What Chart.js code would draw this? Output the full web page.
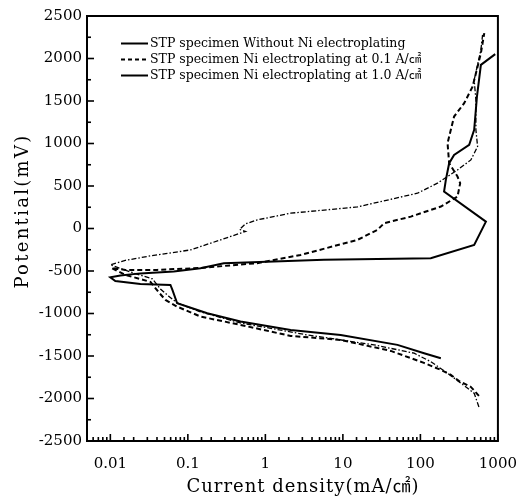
<!DOCTYPE html>
<html><head><meta charset="utf-8">
<script src="https://cdn.jsdelivr.net/npm/chart.js@4.4.1/dist/chart.umd.min.js"></script>
<style>html,body{margin:0;padding:0;background:#fff;} canvas{display:block;}</style>
</head><body>
<canvas id="c" width="531" height="498"></canvas>
<script>
// ---------------- data ----------------
const seriesNames = [
  'STP specimen Without Ni electroplating',
  'STP specimen Ni electroplating at 0.1 A/㎠',
  'STP specimen Ni electroplating at 1.0 A/㎠'
];

// Without Ni electroplating (solid)
const currentWithout   = [183.6, 111.6, 50.6, 9.37, 2.12, 0.478, 0.178, 0.0728, 0.0632, 0.0596, 0.0244, 0.0116, 0.0100, 0.0135, 0.0244, 0.0658, 0.1455, 0.291, 5.70, 136, 494, 700, 202, 213, 235, 272, 426, 494, 536, 603, 923];
const potentialWithout = [-1526, -1467, -1369, -1252, -1193, -1095, -997, -879, -722, -664, -652, -617, -575, -552, -528, -507, -467, -408, -369, -349, -193, 81, 434, 572, 768, 866, 984, 1160, 1548, 1925, 2051];

// Ni electroplating at 0.1 A/cm2 (dashed)
const current01   = [569, 448, 313, 247, 184, 111, 41.5, 9.37, 2.12, 0.478, 0.1455, 0.0728, 0.0514, 0.0417, 0.0329, 0.0156, 0.0103, 0.0156, 0.0401, 0.1455, 0.786, 2.85, 15.4, 27.9, 34.0, 75.2, 184, 301, 326, 301, 235, 224, 272, 367, 471, 547, 603, 667];
const potential01 = [-1969, -1864, -1793, -1722, -1664, -1581, -1440, -1311, -1264, -1134, -1036, -919, -840, -746, -628, -546, -464, -487, -487, -464, -408, -311, -134, -16, 62, 140, 258, 375, 533, 611, 768, 1004, 1317, 1474, 1669, 1905, 2062, 2298];

// Ni electroplating at 1.0 A/cm2 (dash-dot)
const current10   = [569, 494, 333, 224, 136, 83, 25.2, 3.48, 0.478, 0.1455, 0.0728, 0.0561, 0.0443, 0.0349, 0.0181, 0.0100, 0.0156, 0.0329, 0.108, 0.264, 0.555, 0.464, 0.555, 0.786, 2.12, 15.4, 91.6, 166, 301, 448, 547, 520, 520, 494, 603, 634];
const potential10 = [-2099, -1938, -1820, -1702, -1566, -1467, -1369, -1252, -1111, -981, -875, -793, -711, -593, -511, -428, -375, -322, -252, -134, -34, -11, 54, 101, 180, 254, 415, 533, 689, 807, 964, 1160, 1513, 1748, 2101, 2278];

// axes
const xTickValues = [0.01, 0.1, 1, 10, 100, 1000];
const xTickText   = ['0.01', '0.1', '1', '10', '100', '1000'];
const yTickValues = [-2500, -2000, -1500, -1000, -500, 0, 500, 1000, 1500, 2000, 2500];
const xTitle = 'Current density(mA/㎠)';
const yTitle = 'Potential(mV)';

// ---------------- chart ----------------
const FONT = "'DejaVu Serif', 'Noto Sans CJK SC', serif";
Chart.defaults.font.family = FONT;
Chart.defaults.color = '#000';

function pts(xs, ys) { return xs.map((x, i) => ({ x: x, y: ys[i] })); }
function xLabelFor(v) {
  for (let i = 0; i < xTickValues.length; i++) {
    if (Math.abs(v - xTickValues[i]) / xTickValues[i] < 1e-6) return xTickText[i];
  }
  return '';
}
function isXMajor(v) { return xLabelFor(v) !== ''; }
function isYMajor(v) { return yTickValues.indexOf(v) >= 0; }

const styles = [
  { width: 2, dash: [], legendDash: [] },
  { width: 2, dash: [5, 3], legendDash: [4, 3] },
  { width: 1.3, dash: [5, 2, 1.5, 2], legendDash: [] }
];

const overlay = {
  id: 'overlay',
  afterDraw(chart) {
    const ctx = chart.ctx, a = chart.chartArea;
    const xs = chart.scales.x, ys = chart.scales.y;
    ctx.save();
    ctx.strokeStyle = '#000';
    ctx.fillStyle = '#000';
    // inward ticks
    ctx.lineWidth = 1.6;
    xs.ticks.forEach(t => {
      const px = xs.getPixelForValue(t.value);
      if (px < a.left - 0.5 || px > a.right + 0.5) return;
      const len = isXMajor(t.value) ? 7 : 4;
      ctx.beginPath(); ctx.moveTo(px, a.bottom); ctx.lineTo(px, a.bottom - len); ctx.stroke();
    });
    ys.ticks.forEach(t => {
      const py = ys.getPixelForValue(t.value);
      const len = isYMajor(t.value) ? 7 : 4;
      ctx.beginPath(); ctx.moveTo(a.left, py); ctx.lineTo(a.left + len, py); ctx.stroke();
    });
    // frame
    ctx.lineWidth = 2;
    ctx.strokeRect(a.left, a.top, a.right - a.left, a.bottom - a.top);
    // legend
    ctx.font = '12.5px ' + FONT;
    ctx.textBaseline = 'middle';
    ctx.textAlign = 'left';
    const ly = [43.5, 59.5, 75.5];
    seriesNames.forEach((name, i) => {
      ctx.lineWidth = 2;
      ctx.setLineDash(styles[i].legendDash);
      ctx.beginPath(); ctx.moveTo(121, ly[i]); ctx.lineTo(148, ly[i]); ctx.stroke();
      ctx.setLineDash([]);
      ctx.fillText(name, 150, ly[i]);
    });
    // axis titles
    ctx.font = '18px ' + FONT;
    ctx.textAlign = 'center';
    try { ctx.letterSpacing = '1px'; } catch (e) {}
    ctx.fillText(xTitle, 303, 487);
    ctx.translate(23, 211);
    ctx.rotate(-Math.PI / 2);
    try { ctx.letterSpacing = '2.3px'; } catch (e) {}
    ctx.fillText(yTitle, 0, 0);
    ctx.restore();
  }
};

new Chart(document.getElementById('c'), {
  type: 'scatter',
  data: {
    datasets: [
      { label: seriesNames[0], data: pts(currentWithout, potentialWithout) },
      { label: seriesNames[1], data: pts(current01, potential01) },
      { label: seriesNames[2], data: pts(current10, potential10) }
    ].map((d, i) => Object.assign(d, {
      showLine: true,
      borderColor: '#000',
      backgroundColor: '#000',
      borderWidth: styles[i].width,
      borderDash: styles[i].dash,
      pointRadius: 0,
      pointHoverRadius: 0,
      tension: 0,
      fill: false
    }))
  },
  plugins: [overlay],
  options: {
    responsive: false,
    devicePixelRatio: 1,
    animation: false,
    events: [],
    layout: { padding: { left: 0, right: 33, top: 16, bottom: 0 } },
    plugins: { legend: { display: false }, tooltip: { enabled: false } },
    scales: {
      x: {
        type: 'logarithmic',
        position: 'bottom',
        min: 0.005,
        max: 1000,
        grid: { display: false, drawTicks: false, tickLength: 0 },
        border: { display: false },
        ticks: {
          autoSkip: false,
          maxRotation: 0,
          padding: 14,
          font: { size: 15 },
          callback: (v) => xLabelFor(v)
        },
        afterFit: (s) => { s.height = 57; }
      },
      y: {
        type: 'linear',
        position: 'left',
        min: -2500,
        max: 2500,
        grid: { display: false, drawTicks: false, tickLength: 0 },
        border: { display: false },
        ticks: {
          stepSize: 250,
          autoSkip: false,
          padding: 5,
          font: { size: 15 },
          callback: (v) => (isYMajor(v) ? String(v) : '')
        },
        afterFit: (s) => { s.width = 87; }
      }
    }
  }
});
</script>
</body></html>
